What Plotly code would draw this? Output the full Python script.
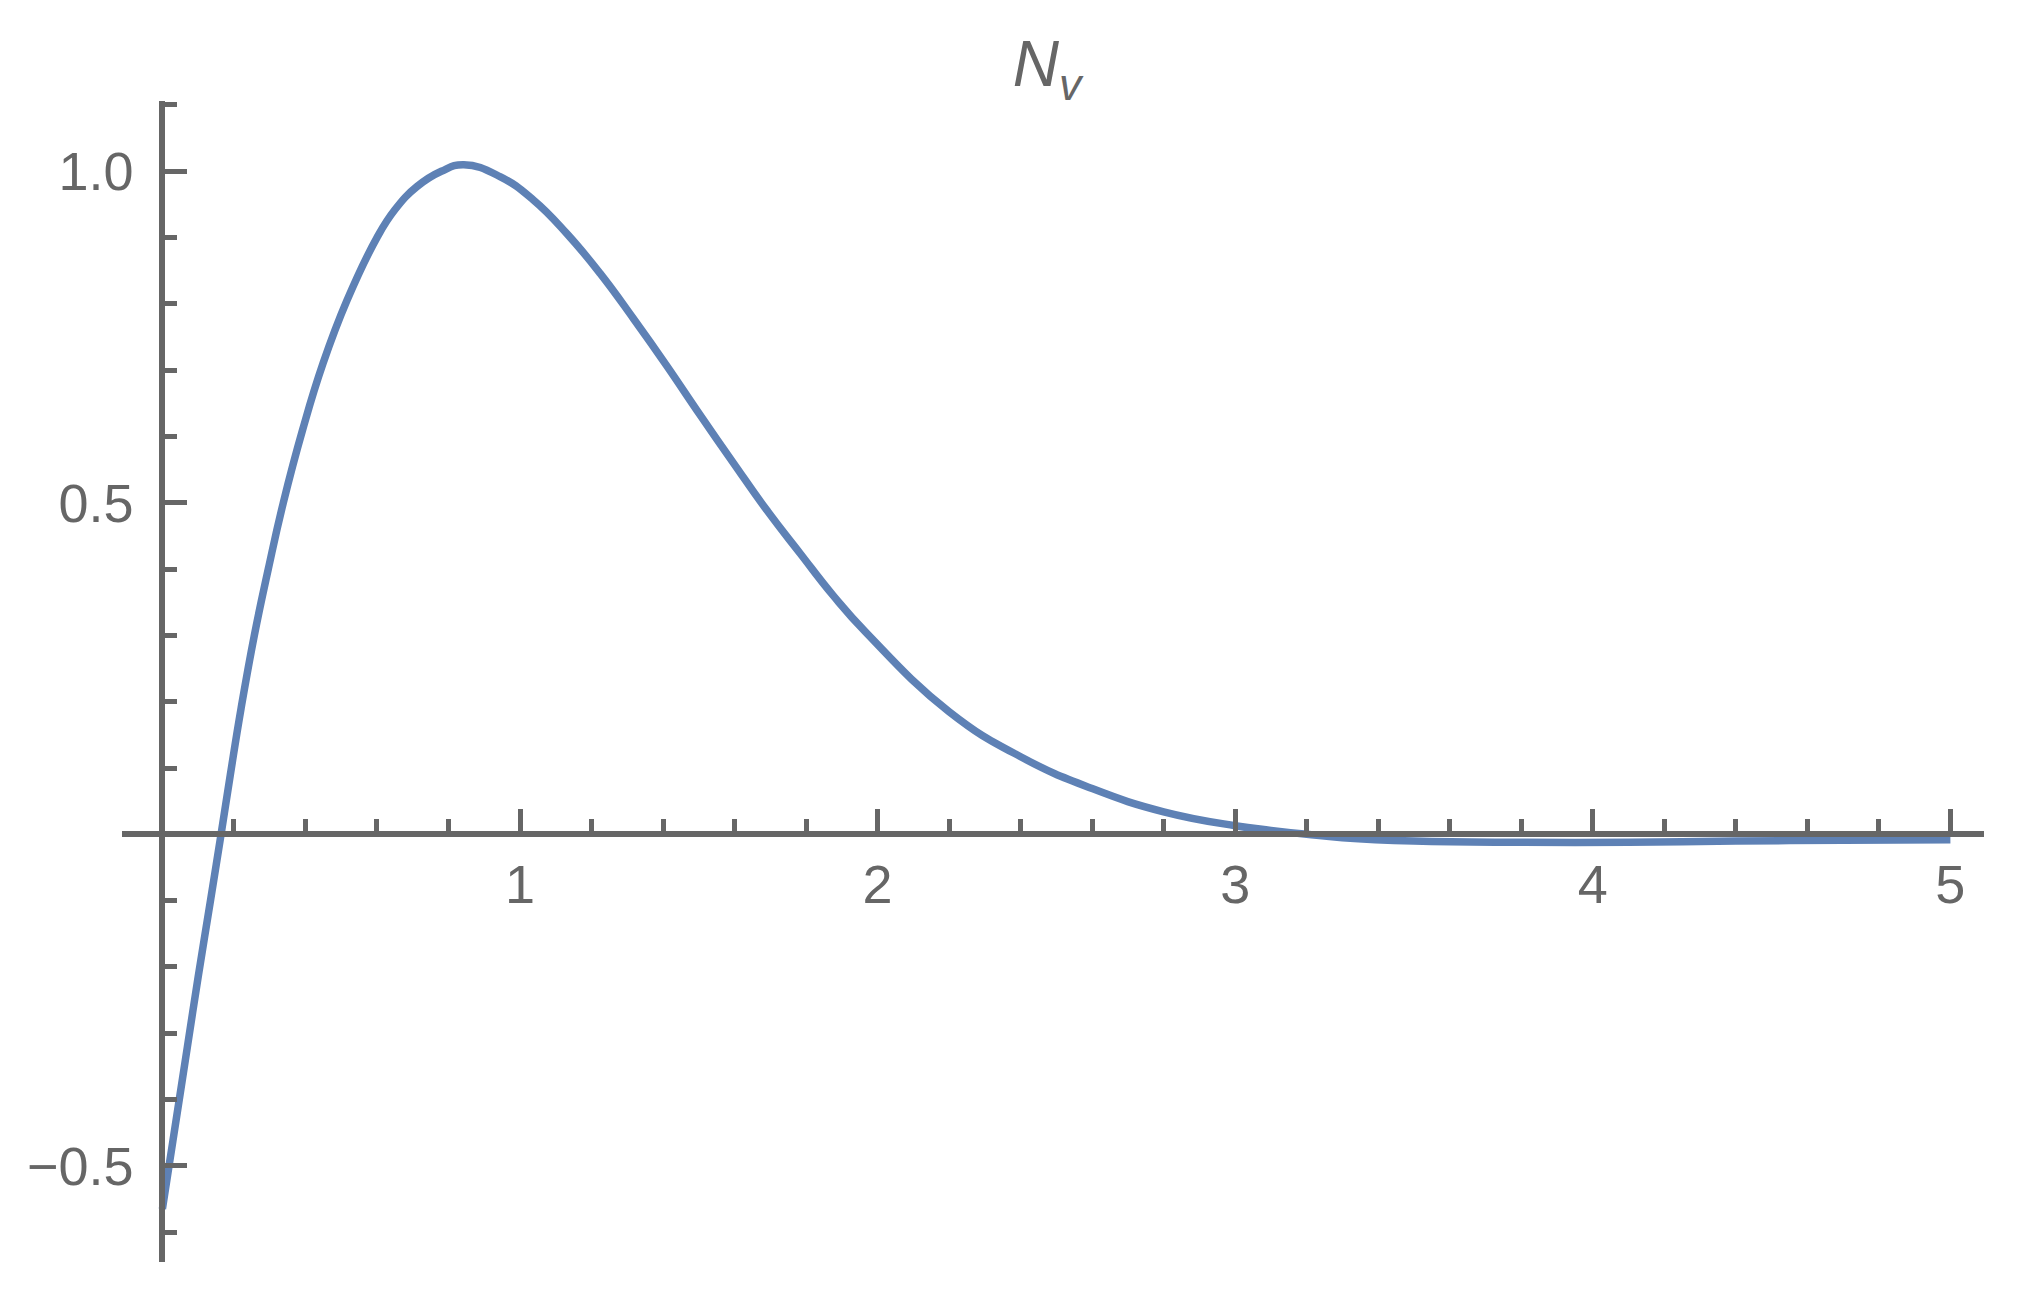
import plotly.graph_objects as go

# Values
v_values = [0.0, 0.02, 0.04, 0.07, 0.10, 0.135, 0.164, 0.19, 0.22, 0.257, 0.296,
            0.338, 0.392, 0.449, 0.516, 0.600, 0.65, 0.712, 0.78, 0.843, 0.944,
            1.037, 1.131, 1.224, 1.317, 1.410, 1.503, 1.597, 1.690, 1.783, 1.876, 1.970,
            2.2, 2.4, 2.6, 2.8, 3.0, 3.1, 3.2, 3.3, 3.5, 3.8, 4.1, 4.4, 4.7, 5.0]
n_values = [-0.565, -0.495, -0.425, -0.32, -0.215, -0.098, 0.0, 0.09, 0.19, 0.30, 0.40,
            0.50, 0.61, 0.71, 0.805, 0.90, 0.942, 0.977, 1.000, 1.010, 0.992,
            0.957, 0.906, 0.846, 0.778, 0.707, 0.633, 0.560, 0.489, 0.424, 0.360, 0.303,
            0.185, 0.117, 0.069, 0.034, 0.013, 0.006, 0.0, -0.005, -0.010, -0.012, -0.012,
            -0.010, -0.009, -0.008]

x_tickvals = [1, 2, 3, 4, 5]
x_ticktext = ["1", "2", "3", "4", "5"]
y_tickvals = [-0.5, 0.5, 1.0]
y_ticktext = ["\u22120.5", "0.5", "1.0"]

x_range = [-0.113, 5.094]
y_range = [-0.645, 1.106]

AXIS = "#666666"
CURVE = "#5E81B5"
FONT = "Liberation Sans"

fig = go.Figure()
fig.add_trace(go.Scatter(
    x=v_values, y=n_values, mode="lines",
    line=dict(color=CURVE, width=7.5, shape="spline", smoothing=1.3),
    hoverinfo="skip", showlegend=False,
))

x_pos = (0 - y_range[0]) / (y_range[1] - y_range[0])
y_pos = (0 - x_range[0]) / (x_range[1] - x_range[0])

fig.update_layout(
    width=2018, height=1291,
    margin=dict(l=122, r=34, t=101, b=29, pad=0),
    paper_bgcolor="white", plot_bgcolor="white",
    showlegend=False,
    title=dict(
        text="<i>N</i><sub><i>v</i></sub>",
        font=dict(family=FONT, size=64, color=AXIS),
        x=1047 / 2018, xref="container", xanchor="center",
        y=1 - 64 / 1291, yref="container", yanchor="middle",
    ),
    xaxis=dict(
        range=x_range, anchor="free", position=x_pos,
        showgrid=False, zeroline=False,
        showline=True, linecolor=AXIS, linewidth=6,
        tickmode="array", tickvals=x_tickvals, ticktext=x_ticktext,
        ticks="inside", ticklen=22, tickwidth=5, tickcolor=AXIS,
        minor=dict(ticks="inside", dtick=0.2, tick0=0, ticklen=12, tickwidth=5, tickcolor=AXIS),
        tickfont=dict(family=FONT, size=54, color=AXIS),
        ticklabelstandoff=1,
        layer="above traces",
    ),
    yaxis=dict(
        range=y_range, anchor="free", position=y_pos,
        showgrid=False, zeroline=False,
        showline=True, linecolor=AXIS, linewidth=6,
        tickmode="array", tickvals=y_tickvals, ticktext=y_ticktext,
        ticks="inside", ticklen=22, tickwidth=5, tickcolor=AXIS,
        minor=dict(ticks="inside", dtick=0.1, tick0=0, ticklen=12, tickwidth=5, tickcolor=AXIS),
        tickfont=dict(family=FONT, size=54, color=AXIS),
        ticklabelstandoff=15,
        layer="above traces",
    ),
)

fig.write_html(
    "out.html",
    config={"displayModeBar": False},
    post_script="document.body.style.margin='0';document.body.style.overflow='hidden';",
)
